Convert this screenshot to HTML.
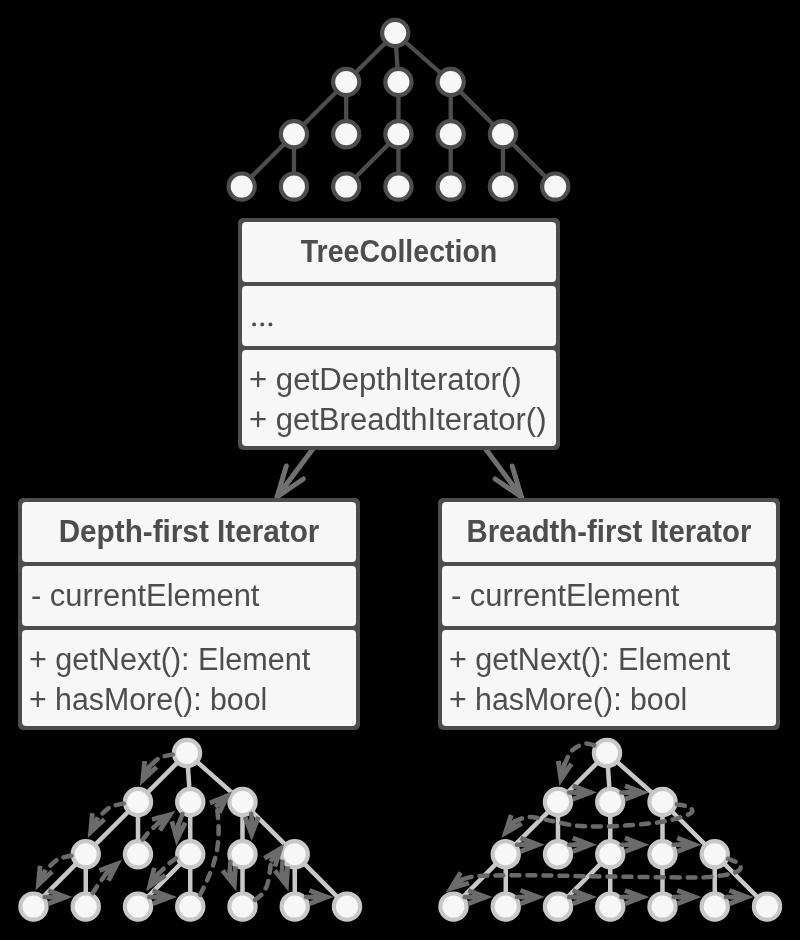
<!DOCTYPE html><html><head><meta charset="utf-8"><style>html,body{margin:0;padding:0;background:#000;width:800px;height:940px;overflow:hidden}svg{display:block;will-change:transform}text{font-family:"Liberation Sans",sans-serif;font-size:31px;fill:#4d4d4d}</style></head><body>
<svg width="800" height="940" viewBox="0 0 800 940">
<rect width="800" height="940" fill="#000"/>
<line x1="395.20" y1="33.00" x2="346.20" y2="82.00" stroke="#4d4d4d" stroke-width="4.3"/>
<line x1="395.20" y1="33.00" x2="398.45" y2="82.00" stroke="#4d4d4d" stroke-width="4.3"/>
<line x1="395.20" y1="33.00" x2="450.70" y2="82.00" stroke="#4d4d4d" stroke-width="4.3"/>
<line x1="346.20" y1="82.00" x2="293.95" y2="134.20" stroke="#4d4d4d" stroke-width="4.3"/>
<line x1="346.20" y1="82.00" x2="346.20" y2="134.20" stroke="#4d4d4d" stroke-width="4.3"/>
<line x1="398.45" y1="82.00" x2="398.45" y2="134.20" stroke="#4d4d4d" stroke-width="4.3"/>
<line x1="450.70" y1="82.00" x2="450.70" y2="134.20" stroke="#4d4d4d" stroke-width="4.3"/>
<line x1="450.70" y1="82.00" x2="502.95" y2="134.20" stroke="#4d4d4d" stroke-width="4.3"/>
<line x1="293.95" y1="134.20" x2="241.70" y2="186.60" stroke="#4d4d4d" stroke-width="4.3"/>
<line x1="293.95" y1="134.20" x2="293.95" y2="186.60" stroke="#4d4d4d" stroke-width="4.3"/>
<line x1="398.45" y1="134.20" x2="346.20" y2="186.60" stroke="#4d4d4d" stroke-width="4.3"/>
<line x1="398.45" y1="134.20" x2="398.45" y2="186.60" stroke="#4d4d4d" stroke-width="4.3"/>
<line x1="450.70" y1="134.20" x2="450.70" y2="186.60" stroke="#4d4d4d" stroke-width="4.3"/>
<line x1="502.95" y1="134.20" x2="502.95" y2="186.60" stroke="#4d4d4d" stroke-width="4.3"/>
<line x1="502.95" y1="134.20" x2="555.20" y2="186.60" stroke="#4d4d4d" stroke-width="4.3"/>
<circle cx="395.20" cy="33.00" r="13.1" fill="#f7f7f7" stroke="#4d4d4d" stroke-width="4.2"/>
<circle cx="346.20" cy="82.00" r="13.1" fill="#f7f7f7" stroke="#4d4d4d" stroke-width="4.2"/>
<circle cx="398.45" cy="82.00" r="13.1" fill="#f7f7f7" stroke="#4d4d4d" stroke-width="4.2"/>
<circle cx="450.70" cy="82.00" r="13.1" fill="#f7f7f7" stroke="#4d4d4d" stroke-width="4.2"/>
<circle cx="293.95" cy="134.20" r="13.1" fill="#f7f7f7" stroke="#4d4d4d" stroke-width="4.2"/>
<circle cx="346.20" cy="134.20" r="13.1" fill="#f7f7f7" stroke="#4d4d4d" stroke-width="4.2"/>
<circle cx="398.45" cy="134.20" r="13.1" fill="#f7f7f7" stroke="#4d4d4d" stroke-width="4.2"/>
<circle cx="450.70" cy="134.20" r="13.1" fill="#f7f7f7" stroke="#4d4d4d" stroke-width="4.2"/>
<circle cx="502.95" cy="134.20" r="13.1" fill="#f7f7f7" stroke="#4d4d4d" stroke-width="4.2"/>
<circle cx="241.70" cy="186.60" r="13.1" fill="#f7f7f7" stroke="#4d4d4d" stroke-width="4.2"/>
<circle cx="293.95" cy="186.60" r="13.1" fill="#f7f7f7" stroke="#4d4d4d" stroke-width="4.2"/>
<circle cx="346.20" cy="186.60" r="13.1" fill="#f7f7f7" stroke="#4d4d4d" stroke-width="4.2"/>
<circle cx="398.45" cy="186.60" r="13.1" fill="#f7f7f7" stroke="#4d4d4d" stroke-width="4.2"/>
<circle cx="450.70" cy="186.60" r="13.1" fill="#f7f7f7" stroke="#4d4d4d" stroke-width="4.2"/>
<circle cx="502.95" cy="186.60" r="13.1" fill="#f7f7f7" stroke="#4d4d4d" stroke-width="4.2"/>
<circle cx="555.20" cy="186.60" r="13.1" fill="#f7f7f7" stroke="#4d4d4d" stroke-width="4.2"/>
<path d="M315 446 L277 497 M286.3 466 L277 497 L303.3 479" fill="none" stroke="#707070" stroke-width="5" stroke-linecap="round" stroke-linejoin="round"/>
<path d="M483.5 446 L521.5 497 M512.2 466 L521.5 497 L495.2 479" fill="none" stroke="#707070" stroke-width="5" stroke-linecap="round" stroke-linejoin="round"/>
<rect x="238" y="218" width="322" height="232" rx="5" fill="#4d4d4d"/>
<rect x="242" y="222" width="314" height="60" rx="4" fill="#f7f7f7"/>
<rect x="242" y="286" width="314" height="60" rx="4" fill="#f7f7f7"/>
<rect x="242" y="350" width="314" height="96" rx="4" fill="#f7f7f7"/>
<text x="399.0" y="262" text-anchor="middle" font-weight="bold" textLength="196.5" lengthAdjust="spacingAndGlyphs">TreeCollection</text>
<circle cx="254.10" cy="324.4" r="1.95" fill="#4d4d4d"/>
<circle cx="262.25" cy="324.4" r="1.95" fill="#4d4d4d"/>
<circle cx="270.40" cy="324.4" r="1.95" fill="#4d4d4d"/>
<text x="249" y="390" textLength="272.75" lengthAdjust="spacingAndGlyphs">+ getDepthIterator()</text>
<text x="249" y="430" textLength="297.5" lengthAdjust="spacingAndGlyphs">+ getBreadthIterator()</text>
<rect x="18" y="498" width="342" height="232" rx="5" fill="#4d4d4d"/>
<rect x="22" y="502" width="334" height="60" rx="4" fill="#f7f7f7"/>
<rect x="22" y="566" width="334" height="60" rx="4" fill="#f7f7f7"/>
<rect x="22" y="630" width="334" height="96" rx="4" fill="#f7f7f7"/>
<text x="189.0" y="542" text-anchor="middle" font-weight="bold" textLength="260.75" lengthAdjust="spacingAndGlyphs">Depth-first Iterator</text>
<text x="31" y="606" textLength="228.4" lengthAdjust="spacingAndGlyphs">- currentElement</text>
<text x="29" y="670" textLength="281.25" lengthAdjust="spacingAndGlyphs">+ getNext(): Element</text>
<text x="29" y="710" textLength="238.3" lengthAdjust="spacingAndGlyphs">+ hasMore(): bool</text>
<rect x="438" y="498" width="342" height="232" rx="5" fill="#4d4d4d"/>
<rect x="442" y="502" width="334" height="60" rx="4" fill="#f7f7f7"/>
<rect x="442" y="566" width="334" height="60" rx="4" fill="#f7f7f7"/>
<rect x="442" y="630" width="334" height="96" rx="4" fill="#f7f7f7"/>
<text x="609.0" y="542" text-anchor="middle" font-weight="bold" textLength="284.85" lengthAdjust="spacingAndGlyphs">Breadth-first Iterator</text>
<text x="451" y="606" textLength="228.4" lengthAdjust="spacingAndGlyphs">- currentElement</text>
<text x="449" y="670" textLength="281.25" lengthAdjust="spacingAndGlyphs">+ getNext(): Element</text>
<text x="449" y="710" textLength="238.3" lengthAdjust="spacingAndGlyphs">+ hasMore(): bool</text>
<line x1="187.00" y1="753.00" x2="138.00" y2="802.00" stroke="#c8c8c8" stroke-width="4.5"/>
<line x1="187.00" y1="753.00" x2="190.25" y2="802.00" stroke="#c8c8c8" stroke-width="4.5"/>
<line x1="187.00" y1="753.00" x2="242.50" y2="802.00" stroke="#c8c8c8" stroke-width="4.5"/>
<line x1="138.00" y1="802.00" x2="85.75" y2="854.20" stroke="#c8c8c8" stroke-width="4.5"/>
<line x1="138.00" y1="802.00" x2="138.00" y2="854.20" stroke="#c8c8c8" stroke-width="4.5"/>
<line x1="190.25" y1="802.00" x2="190.25" y2="854.20" stroke="#c8c8c8" stroke-width="4.5"/>
<line x1="242.50" y1="802.00" x2="242.50" y2="854.20" stroke="#c8c8c8" stroke-width="4.5"/>
<line x1="242.50" y1="802.00" x2="294.75" y2="854.20" stroke="#c8c8c8" stroke-width="4.5"/>
<line x1="85.75" y1="854.20" x2="33.50" y2="906.60" stroke="#c8c8c8" stroke-width="4.5"/>
<line x1="85.75" y1="854.20" x2="85.75" y2="906.60" stroke="#c8c8c8" stroke-width="4.5"/>
<line x1="190.25" y1="854.20" x2="138.00" y2="906.60" stroke="#c8c8c8" stroke-width="4.5"/>
<line x1="190.25" y1="854.20" x2="190.25" y2="906.60" stroke="#c8c8c8" stroke-width="4.5"/>
<line x1="242.50" y1="854.20" x2="242.50" y2="906.60" stroke="#c8c8c8" stroke-width="4.5"/>
<line x1="294.75" y1="854.20" x2="294.75" y2="906.60" stroke="#c8c8c8" stroke-width="4.5"/>
<line x1="294.75" y1="854.20" x2="347.00" y2="906.60" stroke="#c8c8c8" stroke-width="4.5"/>
<circle cx="187.00" cy="753.00" r="13.1" fill="#f7f7f7" stroke="#c8c8c8" stroke-width="4.2"/>
<circle cx="138.00" cy="802.00" r="13.1" fill="#f7f7f7" stroke="#c8c8c8" stroke-width="4.2"/>
<circle cx="190.25" cy="802.00" r="13.1" fill="#f7f7f7" stroke="#c8c8c8" stroke-width="4.2"/>
<circle cx="242.50" cy="802.00" r="13.1" fill="#f7f7f7" stroke="#c8c8c8" stroke-width="4.2"/>
<circle cx="85.75" cy="854.20" r="13.1" fill="#f7f7f7" stroke="#c8c8c8" stroke-width="4.2"/>
<circle cx="138.00" cy="854.20" r="13.1" fill="#f7f7f7" stroke="#c8c8c8" stroke-width="4.2"/>
<circle cx="190.25" cy="854.20" r="13.1" fill="#f7f7f7" stroke="#c8c8c8" stroke-width="4.2"/>
<circle cx="242.50" cy="854.20" r="13.1" fill="#f7f7f7" stroke="#c8c8c8" stroke-width="4.2"/>
<circle cx="294.75" cy="854.20" r="13.1" fill="#f7f7f7" stroke="#c8c8c8" stroke-width="4.2"/>
<circle cx="33.50" cy="906.60" r="13.1" fill="#f7f7f7" stroke="#c8c8c8" stroke-width="4.2"/>
<circle cx="85.75" cy="906.60" r="13.1" fill="#f7f7f7" stroke="#c8c8c8" stroke-width="4.2"/>
<circle cx="138.00" cy="906.60" r="13.1" fill="#f7f7f7" stroke="#c8c8c8" stroke-width="4.2"/>
<circle cx="190.25" cy="906.60" r="13.1" fill="#f7f7f7" stroke="#c8c8c8" stroke-width="4.2"/>
<circle cx="242.50" cy="906.60" r="13.1" fill="#f7f7f7" stroke="#c8c8c8" stroke-width="4.2"/>
<circle cx="294.75" cy="906.60" r="13.1" fill="#f7f7f7" stroke="#c8c8c8" stroke-width="4.2"/>
<circle cx="347.00" cy="906.60" r="13.1" fill="#f7f7f7" stroke="#c8c8c8" stroke-width="4.2"/>
<line x1="607.00" y1="753.00" x2="558.00" y2="802.00" stroke="#c8c8c8" stroke-width="4.5"/>
<line x1="607.00" y1="753.00" x2="610.25" y2="802.00" stroke="#c8c8c8" stroke-width="4.5"/>
<line x1="607.00" y1="753.00" x2="662.50" y2="802.00" stroke="#c8c8c8" stroke-width="4.5"/>
<line x1="558.00" y1="802.00" x2="505.75" y2="854.20" stroke="#c8c8c8" stroke-width="4.5"/>
<line x1="558.00" y1="802.00" x2="558.00" y2="854.20" stroke="#c8c8c8" stroke-width="4.5"/>
<line x1="610.25" y1="802.00" x2="610.25" y2="854.20" stroke="#c8c8c8" stroke-width="4.5"/>
<line x1="662.50" y1="802.00" x2="662.50" y2="854.20" stroke="#c8c8c8" stroke-width="4.5"/>
<line x1="662.50" y1="802.00" x2="714.75" y2="854.20" stroke="#c8c8c8" stroke-width="4.5"/>
<line x1="505.75" y1="854.20" x2="453.50" y2="906.60" stroke="#c8c8c8" stroke-width="4.5"/>
<line x1="505.75" y1="854.20" x2="505.75" y2="906.60" stroke="#c8c8c8" stroke-width="4.5"/>
<line x1="610.25" y1="854.20" x2="558.00" y2="906.60" stroke="#c8c8c8" stroke-width="4.5"/>
<line x1="610.25" y1="854.20" x2="610.25" y2="906.60" stroke="#c8c8c8" stroke-width="4.5"/>
<line x1="662.50" y1="854.20" x2="662.50" y2="906.60" stroke="#c8c8c8" stroke-width="4.5"/>
<line x1="714.75" y1="854.20" x2="714.75" y2="906.60" stroke="#c8c8c8" stroke-width="4.5"/>
<line x1="714.75" y1="854.20" x2="767.00" y2="906.60" stroke="#c8c8c8" stroke-width="4.5"/>
<circle cx="607.00" cy="753.00" r="13.1" fill="#f7f7f7" stroke="#c8c8c8" stroke-width="4.2"/>
<circle cx="558.00" cy="802.00" r="13.1" fill="#f7f7f7" stroke="#c8c8c8" stroke-width="4.2"/>
<circle cx="610.25" cy="802.00" r="13.1" fill="#f7f7f7" stroke="#c8c8c8" stroke-width="4.2"/>
<circle cx="662.50" cy="802.00" r="13.1" fill="#f7f7f7" stroke="#c8c8c8" stroke-width="4.2"/>
<circle cx="505.75" cy="854.20" r="13.1" fill="#f7f7f7" stroke="#c8c8c8" stroke-width="4.2"/>
<circle cx="558.00" cy="854.20" r="13.1" fill="#f7f7f7" stroke="#c8c8c8" stroke-width="4.2"/>
<circle cx="610.25" cy="854.20" r="13.1" fill="#f7f7f7" stroke="#c8c8c8" stroke-width="4.2"/>
<circle cx="662.50" cy="854.20" r="13.1" fill="#f7f7f7" stroke="#c8c8c8" stroke-width="4.2"/>
<circle cx="714.75" cy="854.20" r="13.1" fill="#f7f7f7" stroke="#c8c8c8" stroke-width="4.2"/>
<circle cx="453.50" cy="906.60" r="13.1" fill="#f7f7f7" stroke="#c8c8c8" stroke-width="4.2"/>
<circle cx="505.75" cy="906.60" r="13.1" fill="#f7f7f7" stroke="#c8c8c8" stroke-width="4.2"/>
<circle cx="558.00" cy="906.60" r="13.1" fill="#f7f7f7" stroke="#c8c8c8" stroke-width="4.2"/>
<circle cx="610.25" cy="906.60" r="13.1" fill="#f7f7f7" stroke="#c8c8c8" stroke-width="4.2"/>
<circle cx="662.50" cy="906.60" r="13.1" fill="#f7f7f7" stroke="#c8c8c8" stroke-width="4.2"/>
<circle cx="714.75" cy="906.60" r="13.1" fill="#f7f7f7" stroke="#c8c8c8" stroke-width="4.2"/>
<circle cx="767.00" cy="906.60" r="13.1" fill="#f7f7f7" stroke="#c8c8c8" stroke-width="4.2"/>
<path d="M172.70 754.50 C171.08 754.85 165.62 755.75 163.00 756.60 C160.38 757.45 159.26 757.95 157.00 759.60 C154.74 761.25 150.70 765.34 149.44 766.48" fill="none" stroke="#6b6b6b" stroke-width="4.5" stroke-linecap="round" stroke-dasharray="8 8" stroke-dashoffset="0"/>
<path d="M140.00 785.80 L158.30 768.77 L155.03 765.25 L150.78 769.20 L152.26 766.19 L147.95 764.08 L146.47 767.10 L146.98 761.32 L142.20 760.90Z" fill="#6b6b6b"/>
<path d="M123.70 803.50 C122.08 803.85 116.62 804.75 114.00 805.60 C111.38 806.45 110.80 806.42 108.00 808.60 C105.20 810.78 98.99 817.00 97.19 818.68" fill="none" stroke="#6b6b6b" stroke-width="4.5" stroke-linecap="round" stroke-dasharray="8 8" stroke-dashoffset="0"/>
<path d="M87.75 838.00 L106.05 820.97 L102.78 817.45 L98.53 821.40 L100.01 818.39 L95.70 816.28 L94.22 819.30 L94.73 813.52 L89.95 813.10Z" fill="#6b6b6b"/>
<path d="M71.45 855.70 C69.83 856.05 64.37 856.95 61.75 857.80 C59.13 858.65 58.55 858.59 55.75 860.80 C52.95 863.01 46.74 869.37 44.94 871.08" fill="none" stroke="#6b6b6b" stroke-width="4.5" stroke-linecap="round" stroke-dasharray="8 8" stroke-dashoffset="0"/>
<path d="M35.50 890.40 L53.80 873.37 L50.53 869.85 L46.28 873.80 L47.76 870.79 L43.45 868.68 L41.97 871.70 L42.48 865.92 L37.70 865.50Z" fill="#6b6b6b"/>
<path d="M44.70 897.10 L50.95 897.10" fill="none" stroke="#6b6b6b" stroke-width="4.5" stroke-linecap="round"/>
<path d="M72.45 897.10 L49.11 888.14 L47.39 892.62 L52.80 894.70 L49.45 894.70 L49.45 899.50 L52.80 899.50 L47.39 901.58 L49.11 906.06Z" fill="#6b6b6b"/>
<path d="M92.75 893.10 C93.53 891.90 95.20 889.13 97.40 885.90 C99.60 882.67 104.53 875.74 105.96 873.70" fill="none" stroke="#6b6b6b" stroke-width="4.5" stroke-linecap="round" stroke-dasharray="8 8" stroke-dashoffset="0"/>
<path d="M122.10 859.50 L98.66 868.19 L100.33 872.69 L105.77 870.68 L103.25 872.89 L106.42 876.50 L108.94 874.28 L106.25 879.42 L110.50 881.64Z" fill="#6b6b6b"/>
<path d="M142.70 839.60 C143.65 838.43 145.83 835.31 148.40 832.60 C150.97 829.89 156.50 824.90 158.12 823.36" fill="none" stroke="#6b6b6b" stroke-width="4.5" stroke-linecap="round" stroke-dasharray="8 8" stroke-dashoffset="0"/>
<path d="M175.50 810.70 L151.36 817.20 L152.61 821.83 L158.21 820.33 L155.50 822.30 L158.32 826.18 L161.03 824.21 L157.88 829.07 L161.91 831.68Z" fill="#6b6b6b"/>
<path d="M182.50 814.20 L178.33 824.69" fill="none" stroke="#6b6b6b" stroke-width="4.5" stroke-linecap="round"/>
<path d="M176.40 846.10 L187.42 823.66 L183.11 821.54 L180.55 826.75 L180.85 823.41 L176.07 822.98 L175.77 826.32 L174.19 820.74 L169.57 822.05Z" fill="#6b6b6b"/>
<path d="M176.00 858.50 C174.83 859.33 171.95 860.94 169.00 863.50 C166.05 866.06 160.06 872.12 158.27 873.85" fill="none" stroke="#6b6b6b" stroke-width="4.5" stroke-linecap="round" stroke-dasharray="8 8" stroke-dashoffset="0"/>
<path d="M146.00 891.50 L166.68 877.45 L163.98 873.48 L159.18 876.74 L161.10 873.98 L157.16 871.24 L155.24 874.00 L156.63 868.37 L151.97 867.22Z" fill="#6b6b6b"/>
<path d="M149.20 897.10 L155.45 897.10" fill="none" stroke="#6b6b6b" stroke-width="4.5" stroke-linecap="round"/>
<path d="M176.95 897.10 L153.61 888.14 L151.89 892.62 L157.30 894.70 L153.95 894.70 L153.95 899.50 L157.30 899.50 L151.89 901.58 L153.61 906.06Z" fill="#6b6b6b"/>
<path d="M200.10 894.80 C201.22 892.50 204.55 886.22 206.80 881.00 C209.05 875.78 211.80 869.33 213.60 863.50 C215.40 857.67 216.77 851.92 217.60 846.00 C218.43 840.08 218.65 834.00 218.60 828.00 C218.55 822.00 217.64 813.67 217.30 810.00 C216.96 806.33 216.70 806.64 216.58 805.97" fill="none" stroke="#6b6b6b" stroke-width="4.5" stroke-linecap="round" stroke-dasharray="8 8" stroke-dashoffset="0"/>
<path d="M232.20 791.20 L209.08 800.72 L210.91 805.16 L216.27 802.95 L213.84 805.25 L217.13 808.74 L219.57 806.44 L217.06 811.67 L221.39 813.74Z" fill="#6b6b6b"/>
<path d="M251.20 813.80 L251.70 819.50" fill="none" stroke="#6b6b6b" stroke-width="4.5" stroke-linecap="round"/>
<path d="M251.70 841.00 L260.66 817.66 L256.18 815.94 L254.10 821.35 L254.10 818.00 L249.30 818.00 L249.30 821.35 L247.22 815.94 L242.74 817.66Z" fill="#6b6b6b"/>
<path d="M230.40 861.70 L229.83 871.00" fill="none" stroke="#6b6b6b" stroke-width="4.5" stroke-linecap="round"/>
<path d="M236.30 891.50 L237.82 866.55 L233.02 866.26 L232.67 872.04 L231.66 868.84 L227.09 870.29 L228.10 873.49 L224.48 868.95 L220.73 871.94Z" fill="#6b6b6b"/>
<path d="M255.10 900.00 C256.40 898.83 260.75 896.00 262.90 893.00 C265.05 890.00 266.60 887.44 268.00 882.00 C269.40 876.56 270.77 863.99 271.32 860.39" fill="none" stroke="#6b6b6b" stroke-width="4.5" stroke-linecap="round" stroke-dasharray="8 8" stroke-dashoffset="0"/>
<path d="M284.50 843.40 L263.11 856.35 L265.60 860.45 L270.56 857.45 L268.50 860.10 L272.30 863.04 L274.35 860.39 L272.68 865.94 L277.27 867.33Z" fill="#6b6b6b"/>
<path d="M282.50 861.70 L282.03 871.00" fill="none" stroke="#6b6b6b" stroke-width="4.5" stroke-linecap="round"/>
<path d="M288.50 891.50 L290.02 866.55 L285.22 866.26 L284.87 872.04 L283.86 868.84 L279.29 870.29 L280.30 873.49 L276.68 868.95 L272.93 871.94Z" fill="#6b6b6b"/>
<path d="M305.95 897.10 L312.20 897.10" fill="none" stroke="#6b6b6b" stroke-width="4.5" stroke-linecap="round"/>
<path d="M333.70 897.10 L310.36 888.14 L308.64 892.62 L314.05 894.70 L310.70 894.70 L310.70 899.50 L314.05 899.50 L308.64 901.58 L310.36 906.06Z" fill="#6b6b6b"/>
<path d="M594.25 745.50 C592.81 745.18 588.64 743.27 585.60 743.60 C582.56 743.93 578.68 745.77 576.00 747.50 C573.32 749.23 571.46 751.07 569.50 754.00 C567.54 756.93 565.12 763.21 564.24 765.05" fill="none" stroke="#6b6b6b" stroke-width="4.5" stroke-linecap="round" stroke-dasharray="8 8" stroke-dashoffset="0"/>
<path d="M559.40 786.00 L573.38 765.28 L569.40 762.59 L566.16 767.40 L566.92 764.13 L562.24 763.05 L561.48 766.32 L560.68 760.58 L555.92 761.24Z" fill="#6b6b6b"/>
<path d="M569.20 792.50 L575.45 792.50" fill="none" stroke="#6b6b6b" stroke-width="4.5" stroke-linecap="round"/>
<path d="M596.95 792.50 L573.61 783.54 L571.89 788.02 L577.30 790.10 L573.95 790.10 L573.95 794.90 L577.30 794.90 L571.89 796.98 L573.61 801.46Z" fill="#6b6b6b"/>
<path d="M621.45 792.50 L627.70 792.50" fill="none" stroke="#6b6b6b" stroke-width="4.5" stroke-linecap="round"/>
<path d="M649.20 792.50 L625.86 783.54 L624.14 788.02 L629.55 790.10 L626.20 790.10 L626.20 794.90 L629.55 794.90 L624.14 796.98 L625.86 801.46Z" fill="#6b6b6b"/>
<path d="M676.90 804.40 C678.92 804.82 686.48 805.63 689.00 806.90 C691.52 808.17 693.00 810.40 692.00 812.00 C691.00 813.60 687.67 814.92 683.00 816.50 C678.33 818.08 671.17 820.18 664.00 821.50 C656.83 822.82 649.83 823.57 640.00 824.40 C630.17 825.23 615.83 826.32 605.00 826.50 C594.17 826.68 585.00 826.67 575.00 825.50 C565.00 824.33 552.83 820.92 545.00 819.50 C537.17 818.08 533.04 816.69 528.00 817.00 C522.96 817.31 516.97 820.65 514.76 821.37" fill="none" stroke="#6b6b6b" stroke-width="4.5" stroke-linecap="round" stroke-dasharray="8 8" stroke-dashoffset="0"/>
<path d="M501.25 838.10 L522.88 825.57 L520.48 821.42 L515.46 824.32 L517.57 821.72 L513.83 818.70 L511.73 821.31 L513.51 815.79 L508.95 814.31Z" fill="#6b6b6b"/>
<path d="M516.95 844.70 L523.20 844.70" fill="none" stroke="#6b6b6b" stroke-width="4.5" stroke-linecap="round"/>
<path d="M544.70 844.70 L521.36 835.74 L519.64 840.22 L525.05 842.30 L521.70 842.30 L521.70 847.10 L525.05 847.10 L519.64 849.18 L521.36 853.66Z" fill="#6b6b6b"/>
<path d="M569.20 844.70 L575.45 844.70" fill="none" stroke="#6b6b6b" stroke-width="4.5" stroke-linecap="round"/>
<path d="M596.95 844.70 L573.61 835.74 L571.89 840.22 L577.30 842.30 L573.95 842.30 L573.95 847.10 L577.30 847.10 L571.89 849.18 L573.61 853.66Z" fill="#6b6b6b"/>
<path d="M621.45 844.70 L627.70 844.70" fill="none" stroke="#6b6b6b" stroke-width="4.5" stroke-linecap="round"/>
<path d="M649.20 844.70 L625.86 835.74 L624.14 840.22 L629.55 842.30 L626.20 842.30 L626.20 847.10 L629.55 847.10 L624.14 849.18 L625.86 853.66Z" fill="#6b6b6b"/>
<path d="M673.70 844.70 L679.95 844.70" fill="none" stroke="#6b6b6b" stroke-width="4.5" stroke-linecap="round"/>
<path d="M701.45 844.70 L678.11 835.74 L676.39 840.22 L681.80 842.30 L678.45 842.30 L678.45 847.10 L681.80 847.10 L676.39 849.18 L678.11 853.66Z" fill="#6b6b6b"/>
<path d="M728.10 858.75 C729.83 859.54 736.52 861.71 738.50 863.50 C740.48 865.29 741.42 867.75 740.00 869.50 C738.58 871.25 734.67 872.82 730.00 874.00 C725.33 875.18 718.67 876.02 712.00 876.60 C705.33 877.18 708.67 877.53 690.00 877.50 C671.33 877.47 626.67 876.77 600.00 876.40 C573.33 876.03 548.33 875.45 530.00 875.30 C511.67 875.15 499.67 875.25 490.00 875.50 C480.33 875.75 476.56 876.16 472.00 876.80 C467.44 877.44 464.18 878.93 462.62 879.36" fill="none" stroke="#6b6b6b" stroke-width="4.5" stroke-linecap="round" stroke-dasharray="8 8" stroke-dashoffset="0"/>
<path d="M445.60 892.50 L469.55 885.33 L468.17 880.73 L462.62 882.39 L465.27 880.34 L462.34 876.54 L459.68 878.59 L462.70 873.64 L458.60 871.14Z" fill="#6b6b6b"/>
<path d="M464.70 897.10 L470.95 897.10" fill="none" stroke="#6b6b6b" stroke-width="4.5" stroke-linecap="round"/>
<path d="M492.45 897.10 L469.11 888.14 L467.39 892.62 L472.80 894.70 L469.45 894.70 L469.45 899.50 L472.80 899.50 L467.39 901.58 L469.11 906.06Z" fill="#6b6b6b"/>
<path d="M516.95 897.10 L523.20 897.10" fill="none" stroke="#6b6b6b" stroke-width="4.5" stroke-linecap="round"/>
<path d="M544.70 897.10 L521.36 888.14 L519.64 892.62 L525.05 894.70 L521.70 894.70 L521.70 899.50 L525.05 899.50 L519.64 901.58 L521.36 906.06Z" fill="#6b6b6b"/>
<path d="M569.20 897.10 L575.45 897.10" fill="none" stroke="#6b6b6b" stroke-width="4.5" stroke-linecap="round"/>
<path d="M596.95 897.10 L573.61 888.14 L571.89 892.62 L577.30 894.70 L573.95 894.70 L573.95 899.50 L577.30 899.50 L571.89 901.58 L573.61 906.06Z" fill="#6b6b6b"/>
<path d="M621.45 897.10 L627.70 897.10" fill="none" stroke="#6b6b6b" stroke-width="4.5" stroke-linecap="round"/>
<path d="M649.20 897.10 L625.86 888.14 L624.14 892.62 L629.55 894.70 L626.20 894.70 L626.20 899.50 L629.55 899.50 L624.14 901.58 L625.86 906.06Z" fill="#6b6b6b"/>
<path d="M673.70 897.10 L679.95 897.10" fill="none" stroke="#6b6b6b" stroke-width="4.5" stroke-linecap="round"/>
<path d="M701.45 897.10 L678.11 888.14 L676.39 892.62 L681.80 894.70 L678.45 894.70 L678.45 899.50 L681.80 899.50 L676.39 901.58 L678.11 906.06Z" fill="#6b6b6b"/>
<path d="M725.95 897.10 L732.20 897.10" fill="none" stroke="#6b6b6b" stroke-width="4.5" stroke-linecap="round"/>
<path d="M753.70 897.10 L730.36 888.14 L728.64 892.62 L734.05 894.70 L730.70 894.70 L730.70 899.50 L734.05 899.50 L728.64 901.58 L730.36 906.06Z" fill="#6b6b6b"/>
</svg></body></html>
